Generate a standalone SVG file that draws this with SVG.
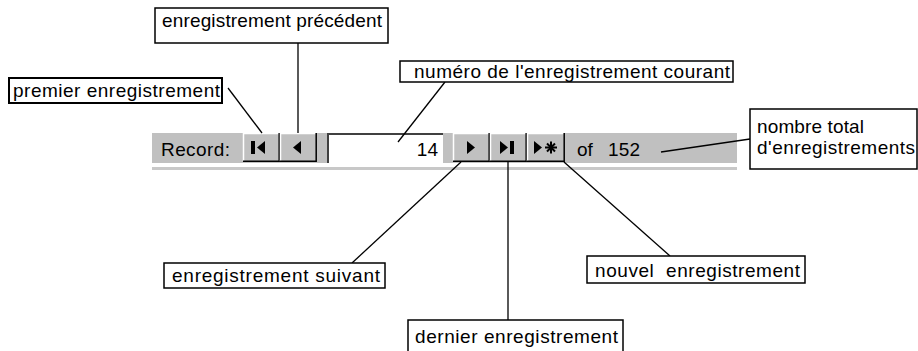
<svg xmlns="http://www.w3.org/2000/svg" width="918" height="351" viewBox="0 0 918 351">
  <style>
    .lbl { fill: #fff; stroke: #000; stroke-width: 1.5; }
    .txt { font-family: "Liberation Sans", Arial, sans-serif; font-size: 19px; fill: #000; }
    .btn { fill: #c0c0c0; }
    .hi { stroke: #fff; stroke-width: 1.5; fill: none; }
    .sh { stroke: #000; stroke-width: 1.5; fill: none; }
    .conn line { stroke: #000; stroke-width: 1.3; }
    .ico { fill: #000; }
  </style>

  <rect width="918" height="351" fill="#fff"/>

  <!-- navigation bar -->
  <g id="record-bar">
    <rect x="152" y="133" width="585" height="30" fill="#c0c0c0"/>
    <rect x="152" y="167" width="585" height="3" fill="#c8c8c8"/>
    <text class="txt" x="161" y="156" textLength="69" lengthAdjust="spacing">Record:</text>

    <!-- first -->
    <rect class="btn" x="243" y="133" width="37" height="28"/>
    <polyline class="hi" points="243.5,161 243.5,133.5 279,133.5"/>
    <polyline class="sh" points="243,161.2 279.2,161.2 279.2,133"/>
    <rect class="ico" x="251" y="141" width="4" height="13"/>
    <polygon class="ico" points="265,141 265,154 257,147.5"/>

    <!-- previous -->
    <rect class="btn" x="280" y="133" width="37" height="28"/>
    <polyline class="hi" points="280.5,161 280.5,133.5 316,133.5"/>
    <polyline class="sh" points="280,161.2 316.2,161.2 316.2,133"/>
    <polygon class="ico" points="301,141 301,154 293,147.5"/>

    <!-- record number field -->
    <rect x="327" y="133" width="116" height="30" fill="#fff"/>
    <polyline points="328,163 328,134 443,134" fill="none" stroke="#404040" stroke-width="2"/>
    <text class="txt" x="438" y="156" text-anchor="end">14</text>

    <!-- next -->
    <rect class="btn" x="453" y="133" width="37" height="28"/>
    <polyline class="hi" points="453.5,161 453.5,133.5 489,133.5"/>
    <polyline class="sh" points="453,161.2 489.2,161.2 489.2,133"/>
    <polygon class="ico" points="467,141 467,154 475,147.5"/>

    <!-- last -->
    <rect class="btn" x="490" y="133" width="37" height="28"/>
    <polyline class="hi" points="490.5,161 490.5,133.5 526,133.5"/>
    <polyline class="sh" points="490,161.2 526.2,161.2 526.2,133"/>
    <polygon class="ico" points="500,141 500,154 508,147.5"/>
    <rect class="ico" x="510" y="141" width="4" height="13"/>

    <!-- new -->
    <rect class="btn" x="527" y="133" width="38" height="28"/>
    <polyline class="hi" points="527.5,161 527.5,133.5 564,133.5"/>
    <polyline class="sh" points="527,161.2 564.2,161.2 564.2,133"/>
    <polygon class="ico" points="534,141 534,154 542,147.5"/>
    <g stroke="#000" stroke-width="2">
      <line x1="551" y1="141.5" x2="551" y2="153.5"/>
      <line x1="545" y1="147.5" x2="557" y2="147.5"/>
      <line x1="547" y1="143.5" x2="555" y2="151.5"/>
      <line x1="547" y1="151.5" x2="555" y2="143.5"/>
    </g>

    <text class="txt" x="577" y="156">of</text>
    <text class="txt" x="608" y="156" textLength="32" lengthAdjust="spacing">152</text>
  </g>

  <!-- callout lines -->
  <g id="connectors" class="conn">
    <line x1="228" y1="88" x2="262" y2="133"/>
    <line x1="298" y1="43" x2="298" y2="133"/>
    <line x1="445" y1="82" x2="398" y2="142"/>
    <line x1="661" y1="152" x2="750" y2="139"/>
    <line x1="352" y1="263" x2="461" y2="162"/>
    <line x1="508" y1="162" x2="508" y2="320"/>
    <line x1="670" y1="256" x2="564" y2="162"/>
  </g>

  <g id="label-precedent">
    <rect class="lbl" x="155" y="8" width="233" height="35"/>
    <text class="txt" x="162" y="27" textLength="220" lengthAdjust="spacing">enregistrement précédent</text>
  </g>

  <g id="label-premier">
    <rect class="lbl" x="9" y="78" width="213" height="25" style="stroke-width:2"/>
    <text class="txt" x="13" y="97" textLength="207" lengthAdjust="spacing">premier enregistrement</text>
  </g>

  <g id="label-numero">
    <rect class="lbl" x="400" y="61" width="333" height="21"/>
    <text class="txt" x="414" y="78" textLength="316" lengthAdjust="spacing">numéro de l'enregistrement courant</text>
  </g>

  <g id="label-total">
    <rect class="lbl" x="750" y="109" width="167" height="60"/>
    <text class="txt" x="757" y="133" textLength="107" lengthAdjust="spacing">nombre total</text>
    <text class="txt" x="757" y="154" textLength="158" lengthAdjust="spacing">d'enregistrements</text>
  </g>

  <g id="label-suivant">
    <rect class="lbl" x="164" y="263" width="221" height="25"/>
    <text class="txt" x="172" y="282" textLength="208" lengthAdjust="spacing">enregistrement suivant</text>
  </g>

  <g id="label-dernier">
    <rect class="lbl" x="408" y="320" width="215" height="40"/>
    <text class="txt" x="415" y="343" textLength="203" lengthAdjust="spacing">dernier enregistrement</text>
  </g>

  <g id="label-nouvel">
    <rect class="lbl" x="587" y="256" width="218" height="27"/>
    <text class="txt" x="595" y="277" textLength="205" lengthAdjust="spacing" xml:space="preserve">nouvel  enregistrement</text>
  </g>
</svg>
